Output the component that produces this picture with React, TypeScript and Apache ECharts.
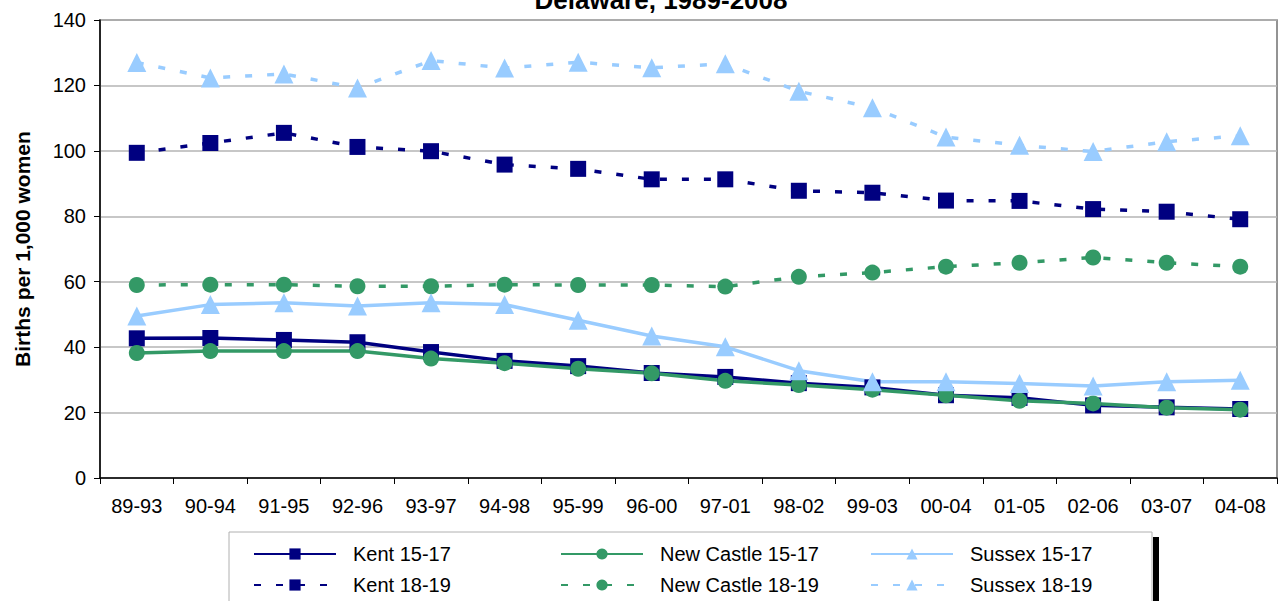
import React, { useEffect, useRef } from "react";
import * as echarts from "echarts";

const categories = ["89-93", "90-94", "91-95", "92-96", "93-97", "94-98", "95-99", "96-00", "97-01", "98-02", "99-03", "00-04", "01-05", "02-06", "03-07", "04-08"];
const kent1517 = [42.7, 42.8, 42.2, 41.5, 38.5, 35.8, 34.2, 32.1, 30.9, 29.0, 27.7, 25.3, 24.5, 22.2, 21.6, 21.1];
const newCastle1517 = [38.2, 38.8, 38.8, 38.8, 36.5, 35.1, 33.4, 32.0, 29.7, 28.4, 27.0, 25.3, 23.6, 22.8, 21.5, 20.9];
const sussex1517 = [49.5, 53.0, 53.6, 52.6, 53.6, 53.0, 48.2, 43.4, 40.1, 32.8, 29.4, 29.4, 28.9, 28.1, 29.4, 29.9];
const kent1819 = [99.4, 102.4, 105.5, 101.2, 99.9, 95.8, 94.5, 91.3, 91.3, 87.8, 87.2, 84.8, 84.7, 82.2, 81.4, 79.1];
const newCastle1819 = [59.0, 59.1, 59.1, 58.6, 58.6, 59.1, 59.0, 59.0, 58.5, 61.5, 62.8, 64.6, 65.8, 67.4, 65.8, 64.6];
const sussex1819 = [127.0, 122.3, 123.5, 119.2, 127.6, 125.3, 127.1, 125.4, 126.6, 118.2, 113.2, 104.2, 101.7, 99.8, 102.8, 104.6];

const FONT = "'Liberation Sans', Arial, sans-serif";
const NAVY = "#000080";
const GREEN = "#339966";
const LIGHT = "#99CCFF";
const DASH = [7, 15];

export default function App() {
  const ref = useRef<HTMLDivElement>(null);
  useEffect(() => {
    if (!ref.current) return;
    const chart = echarts.init(ref.current, null, { renderer: "svg" });
    const mk = (name: string, data: number[], color: string, symbol: string, size: number, dashed: boolean) => ({
      name,
      type: "line",
      data,
      symbol,
      symbolSize: size,
      showSymbol: true,
      itemStyle: { color, borderWidth: 0 },
      lineStyle: { color, width: 3.5, type: dashed ? DASH : "solid" },
      emphasis: { disabled: true },
    });
    const legendBase = {
      orient: "vertical",
      top: 539,
      itemWidth: 82,
      itemHeight: 14,
      itemGap: 11,
      textStyle: { fontSize: 20, fontFamily: FONT, color: "#000", lineHeight: 20, padding: [0, 0, 0, 12] },
      selectedMode: false,
    };
    chart.setOption({
      animation: false,
      backgroundColor: "#fff",
      grid: { left: 100, right: 1, top: 20, bottom: 123, show: true, borderColor: "#707070", borderWidth: 1.5, backgroundColor: "#fff" },
      legend: [
        { ...legendBase, left: 248, data: ["Kent 15-17", "Kent 18-19"] },
        { ...legendBase, left: 555, data: ["New Castle 15-17", "New Castle 18-19"] },
        { ...legendBase, left: 865, data: ["Sussex 15-17", "Sussex 18-19"] },
      ],
      xAxis: {
        type: "category",
        data: categories,
        boundaryGap: true,
        axisLine: { lineStyle: { color: "#000", width: 1.5 } },
        axisTick: { show: true, inside: false, length: 6, lineStyle: { color: "#000" }, alignWithLabel: false },
        axisLabel: { fontSize: 20, fontFamily: FONT, color: "#000", margin: 18, interval: 0 },
        splitLine: { show: false },
      },
      yAxis: {
        type: "value",
        min: 0,
        max: 140,
        interval: 20,
        name: "Births per 1,000 women",
        nameLocation: "middle",
        nameGap: 67,
        nameTextStyle: { fontSize: 21, fontWeight: "bold", fontFamily: FONT, color: "#000" },
        axisLine: { show: true, lineStyle: { color: "#000", width: 1.5 } },
        axisTick: { show: true, inside: false, length: 6, lineStyle: { color: "#000" } },
        axisLabel: { fontSize: 20, fontFamily: FONT, color: "#000", margin: 14 },
        splitLine: { show: true, lineStyle: { color: "#b4b4b4", width: 1.5 } },
      },
      graphic: [
        {
          type: "text",
          x: 661,
          y: 13,
          z: 10,
          style: { text: "Delaware, 1989-2008", fontSize: 26, fontWeight: "bold", fontFamily: FONT, fill: "#000", align: "center", verticalAlign: "bottom" },
        },
        {
          type: "rect",
          z: -1,
          shape: { x: 229, y: 532, width: 923, height: 90 },
          style: { fill: "#fff", stroke: "#b0b0b0", lineWidth: 1 },
        },
        {
          type: "rect",
          z: -1,
          shape: { x: 1153, y: 537, width: 6, height: 80 },
          style: { fill: "#000" },
        },
      ],
      series: [
        mk("Kent 15-17", kent1517, NAVY, "rect", 16, false),
        mk("Kent 18-19", kent1819, NAVY, "rect", 16, true),
        mk("New Castle 15-17", newCastle1517, GREEN, "circle", 16, false),
        mk("New Castle 18-19", newCastle1819, GREEN, "circle", 16, true),
        mk("Sussex 15-17", sussex1517, LIGHT, "triangle", 19, false),
        mk("Sussex 18-19", sussex1819, LIGHT, "triangle", 19, true),
      ],
    });
    return () => chart.dispose();
  }, []);
  return <div ref={ref} style={{ position: "fixed", left: 0, top: 0, width: 1278, height: 601 }} />;
}
